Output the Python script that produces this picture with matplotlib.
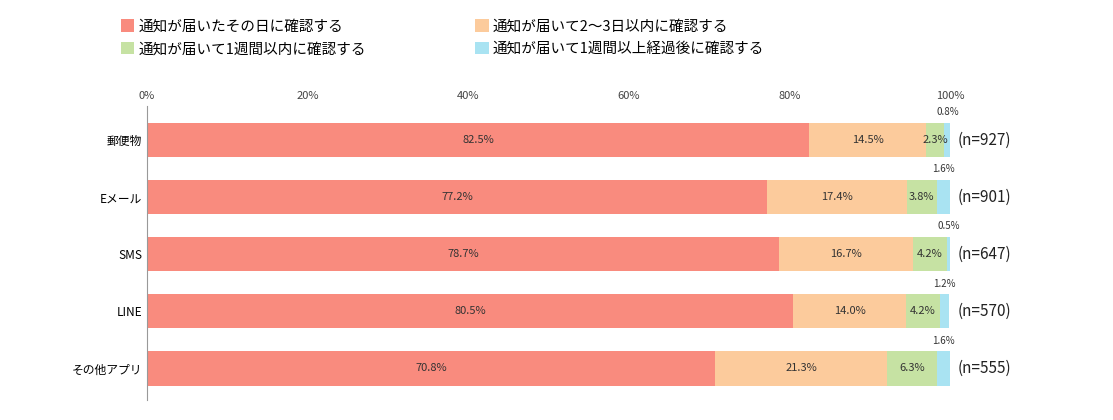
import matplotlib.pyplot as plt
import numpy as np

plt.rcParams['font.family'] = 'Noto Sans CJK JP'

categories = ['郵便物', 'Eメール', 'SMS', 'LINE', 'その他アプリ']
same_day = [82.5, 77.2, 78.7, 80.5, 70.8]
within_3 = [14.5, 17.4, 16.7, 14.0, 21.3]
within_week = [2.3, 3.8, 4.2, 4.2, 6.3]
over_week = [0.8, 1.6, 0.5, 1.2, 1.6]
n_counts = [927, 901, 647, 570, 555]
legend_labels = ['通知が届いたその日に確認する', '通知が届いて2～3日以内に確認する',
                 '通知が届いて1週間以内に確認する', '通知が届いて1週間以上経過後に確認する']
colors = ['#F98B7E', '#FCCB9C', '#C6E2A3', '#A9E3F2']

fig = plt.figure(figsize=(11.13, 4.2), dpi=100)
ax = fig.add_axes([0.132, 0.048, 0.7215, 0.70])

y = np.arange(len(categories))
series = [same_day, within_3, within_week, over_week]
left = np.zeros(len(categories))
handles = []
for i, (vals, c) in enumerate(zip(series, colors)):
    vals = np.array(vals)
    h = ax.barh(y, vals, left=left, height=0.6, color=c, label=legend_labels[i])
    handles.append(h)
    for j, v in enumerate(vals):
        if i < 3:
            ax.text(left[j] + v / 2, y[j], f'{v}%', ha='center', va='center',
                    fontsize=8, color='#333333')
        else:
            ax.text(left[j] + v / 2, y[j] - 0.4, f'{v}%', ha='center', va='bottom',
                    fontsize=7, color='#333333')
    left += vals

for j, n in enumerate(n_counts):
    ax.text(101, y[j], f'(n={n})', ha='left', va='center', fontsize=11, color='#222222')

ax.set_xlim(0, 100)
ax.set_ylim(4.55, -0.6)
ax.set_yticks(y)
ax.set_yticklabels(categories, fontsize=8.5)
ax.set_xticks(np.arange(0, 101, 20))
ax.set_xticklabels([f'{v}%' for v in range(0, 101, 20)], fontsize=8, color='#444444')
ax.xaxis.tick_top()
ax.tick_params(length=0)
for s in ['top', 'right', 'bottom']:
    ax.spines[s].set_visible(False)
ax.spines['left'].set_color('#999999')

order = [0, 2, 1, 3]
fig.legend(handles=[handles[k] for k in order], labels=[legend_labels[k] for k in order],
           loc='upper left', bbox_to_anchor=(0.097, 0.985), ncol=2, frameon=False,
           fontsize=10.5, handlelength=0.9, handleheight=0.9, columnspacing=7.5,
           handletextpad=0.3, labelspacing=0.6)

fig.savefig('out.png', dpi=100)
